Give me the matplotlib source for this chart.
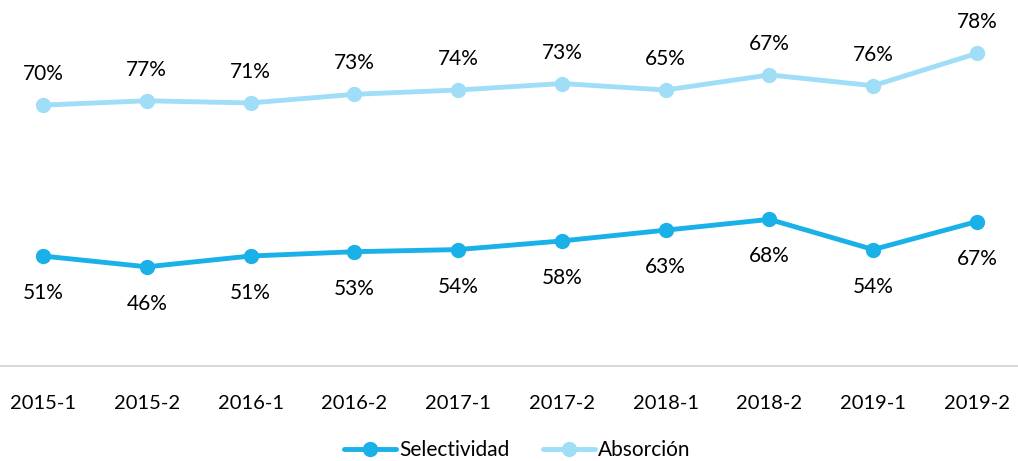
import matplotlib
matplotlib.use("Agg")
import matplotlib.pyplot as plt
import numpy as np

categories = ["2015-1", "2015-2", "2016-1", "2016-2", "2017-1",
              "2017-2", "2018-1", "2018-2", "2019-1", "2019-2"]
selectividad = [51, 46, 51, 53, 54, 58, 63, 68, 54, 67]
absorcion = [70, 77, 71, 73, 74, 73, 65, 67, 76, 78]

c_sel = "#1AB0E8"
c_abs = "#9FDEF6"

plt.rcParams['font.family'] = ['Lato', 'DejaVu Sans']

W, H = 1018, 461
fig = plt.figure(figsize=(W / 100, H / 100), dpi=100)
ax_bottom = 366
ax_top = 21
ax = fig.add_axes([0, 1 - ax_bottom / H, 1, (ax_bottom - ax_top) / H])

x = np.arange(len(categories))
sel = np.array(selectividad)
stacked = sel + np.array(absorcion)

ax.plot(x, sel, color=c_sel, lw=3.5, marker="o", ms=10, label="Selectividad",
        solid_capstyle="round", zorder=3)
ax.plot(x, stacked, color=c_abs, lw=3.5, marker="o", ms=10, label="Absorción",
        solid_capstyle="round", zorder=3)

for xi, v, s in zip(x, sel, selectividad):
    ax.annotate(f"{s}%", (xi, v), xytext=(0, -37), textcoords="offset pixels",
                ha="center", va="center", fontsize=15, color="#000000")
for xi, v, a in zip(x, stacked, absorcion):
    ax.annotate(f"{a}%", (xi, v), xytext=(0, 31), textcoords="offset pixels",
                ha="center", va="center", fontsize=15, color="#000000",
                annotation_clip=False)

sp = (977 - 43) / 9
ax.set_xlim(-43 / sp, 9 + (W - 977) / sp)
ax.set_ylim(0, 160)
ax.set_yticks([])
ax.set_xticks(x)
ax.set_xticklabels(categories, fontsize=14.5)
ax.tick_params(axis="x", length=0, pad=21)
for s in ["top", "right", "left"]:
    ax.spines[s].set_visible(False)
ax.spines["bottom"].set_color("#D9D9D9")
ax.spines["bottom"].set_linewidth(1.5)

leg = fig.legend(loc="center", bbox_to_anchor=(517 / W, 1 - 450 / H), ncol=2,
                 frameon=False, fontsize=15, handlelength=2.5, columnspacing=1.6,
                 handletextpad=0.15)

fig.savefig("out.png", dpi=100)
